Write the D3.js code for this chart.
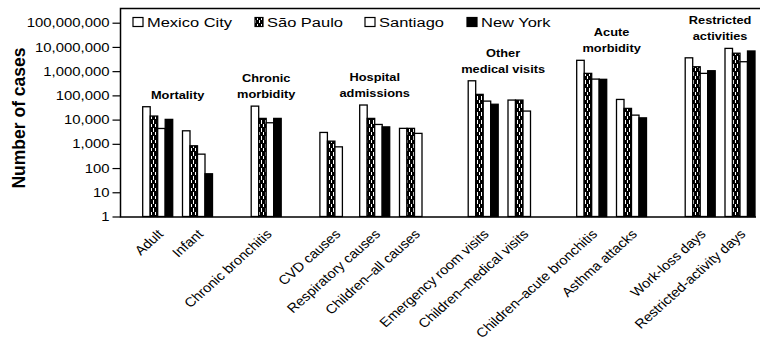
<!DOCTYPE html>
<html>
<head>
<meta charset="utf-8">
<script src="https://cdn.jsdelivr.net/npm/d3@7"></script>
<style>
  html, body { margin: 0; padding: 0; background: #fff; }
  svg { display: block; }
  text { font-family: "Liberation Sans", Arial, Helvetica, sans-serif; fill: #000; }
</style>
</head>
<body>
<svg id="chart" width="761" height="350"></svg>
<script>
// Health outcomes attributable to air pollution, by city (log scale)
const categories = [
  "Adult", "Infant", "Chronic bronchitis", "CVD causes", "Respiratory causes",
  "Children–all causes", "Emergency room visits", "Children–medical visits",
  "Children–acute bronchitis", "Asthma attacks", "Work-loss days", "Restricted-activity days"
];
const groupOfCategory = [0, 0, 1, 2, 2, 2, 3, 3, 4, 4, 5, 5];
const groupTitles = [
  ["Mortality"], ["Chronic", "morbidity"], ["Hospital", "admissions"],
  ["Other", "medical visits"], ["Acute", "morbidity"], ["Restricted", "activities"]
];
const seriesNames = ["Mexico City", "São Paulo", "Santiago", "New York"];
const mexicoCity = [34000, 3450, 36000, 2950, 40000, 4350, 400000, 64000, 2800000, 68000, 3550000, 8700000];
const saoPaulo   = [14000, 830, 11200, 1290, 11200, 4350, 110000, 64000, 810000, 29000, 1520000, 5500000];
const santiago   = [4300, 375, 7400, 750, 6300, 2700, 58000, 22500, 470000, 15300, 810000, 2450000];
const newYork    = [10200, 58, 11200, null, 5000, null, 43000, null, 460000, 11800, 1040000, 6800000];
const yTickValues = [1, 10, 100, 1000, 10000, 100000, 1000000, 10000000, 100000000];

const seriesValues = [mexicoCity, saoPaulo, santiago, newYork];

(function draw() {
  const svg = d3.select("#chart");
  const plotLeft = 120.5, plotTop = 8.5, plotBottom = 217, plotRight = 760;
  const groupGap = 0.726;   // extra space between groups, in category widths
  const SX = 1.22;          // horizontal stretch used for the lettering

  // São Paulo fill: dark vertical streaks with light gaps
  const defs = svg.append("defs");
  const pat = defs.append("pattern").attr("id", "hatch")
    .attr("patternUnits", "userSpaceOnUse").attr("width", 4).attr("height", 8);
  pat.append("rect").attr("width", 4).attr("height", 8).attr("fill", "#000");
  pat.append("rect").attr("x", 1).attr("y", 0).attr("width", 1).attr("height", 4).attr("fill", "#fff");
  pat.append("rect").attr("x", 3).attr("y", 4).attr("width", 1).attr("height", 3).attr("fill", "#fff");

  const fills = ["#fff", "url(#hatch)", "#fff", "#000"];

  const y = d3.scaleLog().domain([1, 1e8]).range([216.5, 22.7]);
  const slot = categories.map((c, i) => i + groupOfCategory[i] * groupGap);
  const x = d3.scaleLinear().domain([0, slot[slot.length - 1]]).range([142.7, 725]);
  const inner = d3.scaleBand().domain(seriesNames).range([0, 30]);
  const groupWidth = inner.range()[1];
  const center = i => x(slot[i]) + groupWidth / 2;

  function sxText(sel, sx) {
    sel.each(function () {
      const t = d3.select(this);
      const tx = +t.attr("x") || 0, ty = +t.attr("y") || 0;
      t.attr("x", null).attr("y", null)
       .attr("transform", `translate(${tx},${ty}) scale(${sx},1)`);
    });
  }

  // Bars
  const barData = [];
  categories.forEach((c, i) => {
    seriesNames.forEach((s, j) => {
      const v = seriesValues[j][i];
      if (v != null) barData.push({ i, j, s, v });
    });
  });
  svg.append("g").selectAll("rect").data(barData).join("rect")
    .attr("x", d => x(slot[d.i]) + inner(d.s))
    .attr("y", d => y(d.v))
    .attr("width", inner.bandwidth())
    .attr("height", d => y(1) - y(d.v))
    .attr("fill", d => fills[d.j])
    .attr("stroke", "#000")
    .attr("stroke-width", 1.3);

  // Frame: top rule, y axis line, baseline
  svg.append("path")
    .attr("d", `M${plotRight},${plotTop}H${plotLeft}V${plotBottom}H${plotRight - 4}`)
    .attr("fill", "none").attr("stroke", "#000").attr("stroke-width", 1.5);

  // Y axis
  const yAxis = d3.axisLeft(y).tickValues(yTickValues).tickFormat(d3.format(","))
    .tickSize(8).tickPadding(3);
  const gy = svg.append("g").attr("transform", `translate(${plotLeft},0)`).call(yAxis);
  gy.select(".domain").remove();
  gy.selectAll(".tick line").attr("stroke-width", 1.2);
  gy.selectAll(".tick text")
    .attr("font-size", 12.2).attr("font-family", null)
    .each(function () {
      const t = d3.select(this);
      const tx = +t.attr("x");
      t.attr("x", null).attr("dy", "0.34em")
       .attr("transform", `translate(${tx},0) scale(${SX},1)`);
    });

  // Y axis title
  svg.append("text")
    .attr("transform", `translate(25,118) rotate(-90)`)
    .attr("text-anchor", "middle")
    .attr("font-weight", "bold").attr("font-size", 17.5)
    .text("Number of cases");

  // X axis labels
  const xOrd = d3.scaleOrdinal().domain(categories).range(categories.map((c, i) => center(i)));
  const gx = svg.append("g").attr("transform", `translate(0,${plotBottom})`)
    .call(d3.axisBottom(xOrd).tickSize(0).tickPadding(0));
  gx.select(".domain").remove();
  gx.selectAll(".tick text")
    .attr("font-size", 13).attr("font-family", null)
    .attr("text-anchor", "end")
    .attr("y", null).attr("dy", null)
    .attr("transform", `translate(6,18) scale(1.12,1) rotate(-45)`);

  // Group titles above each block of bars
  groupTitles.forEach((lines, g) => {
    const idx = d3.range(categories.length).filter(i => groupOfCategory[i] === g);
    const x0 = x(slot[idx[0]]), x1 = x(slot[idx[idx.length - 1]]) + groupWidth;
    const vmax = d3.max(idx, i => d3.max(seriesValues, s => s[i] || 0));
    const base = y(vmax) - 8;
    lines.forEach((line, k) => {
      svg.append("text")
        .attr("x", (x0 + x1) / 2)
        .attr("y", base - (lines.length - 1 - k) * 16)
        .attr("text-anchor", "middle")
        .attr("font-weight", "bold").attr("font-size", 10.5)
        .text(line)
        .call(sxText, SX);
    });
  });

  // Legend
  const legendX = [133, 255, 365, 467];
  const legend = svg.append("g");
  seriesNames.forEach((s, j) => {
    const lx = legendX[j];
    const w = j === 1 ? 8 : 10;
    legend.append("rect")
      .attr("x", lx).attr("y", 17.5).attr("width", w).attr("height", 9)
      .attr("fill", fills[j]).attr("stroke", "#000").attr("stroke-width", 1.2);
    legend.append("text")
      .attr("x", lx + w + 4).attr("y", 27)
      .attr("font-size", 13.5)
      .text(s)
      .call(sxText, SX);
  });
})();
</script>
</body>
</html>
